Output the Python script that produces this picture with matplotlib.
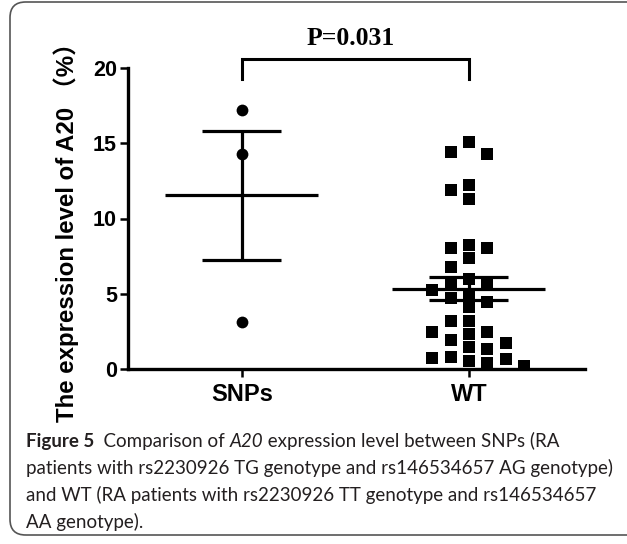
import numpy as np
import matplotlib
matplotlib.use("Agg")
import matplotlib.pyplot as plt
from matplotlib.patches import FancyBboxPatch

# ---- data ----
groups = ["SNPs", "WT"]
snp_vals = [17.18, 14.27, 3.15]
wt_vals = [15.1, 14.45, 14.3, 12.2, 11.9, 11.3, 8.25, 8.07, 8.07, 7.37, 6.75,
           5.97, 5.64, 5.64, 5.27, 4.98, 4.75, 4.42, 4.1, 3.2, 3.2,
           2.43, 2.43, 2.32, 1.92, 1.7, 1.44, 1.33,
           0.82, 0.73, 0.66, 0.5, 0.38, 0.22]
y_ticks = [0, 5, 10, 15, 20]
p_text = "P=0.031"
ylabel = "The expression level of A20 \uff08%\uff09"
caption = [
    [("Figure 5", "bold"), ("  Comparison of ", "normal"), ("A20", "italic"),
     (" expression level between SNPs (RA", "normal")],
    [("patients with rs2230926 TG genotype and rs146534657 AG genotype)", "normal")],
    [("and WT (RA patients with rs2230926 TT genotype and rs146534657", "normal")],
    [("AA genotype).", "normal")],
]

W, H = 627, 544
fig = plt.figure(figsize=(W / 100, H / 100), dpi=100)

# rounded frame around figure + caption (right side runs off the image)
frame = FancyBboxPatch((10 / W, 9 / H), 660 / W, 533 / H,
                       boxstyle="round,pad=0,rounding_size=0.025",
                       transform=fig.transFigure, fill=False,
                       ec="#555555", lw=1.2, mutation_aspect=W / H)
fig.patches.append(frame)

ax = fig.add_axes([128 / W, 1 - 369 / H, 457 / W, 301 / H])
ax.set_xlim(-0.502, 1.511)
ax.set_ylim(0, 20)


def swarm(vals, gap):
    # greedy placement: each point takes the first free slot near the centre
    order = [0, -1, 1, -2, 2, 3, -3, 4, -4]
    placed = []
    slots = []
    for v in vals:
        for s in order:
            if all(not (ps == s and abs(pv - v) < gap) for ps, pv in placed):
                break
        placed.append((s, v))
        slots.append(s)
    return np.array(slots)


step = 0.081
snp_x = np.zeros(len(snp_vals))
wt_x = 1 + swarm(wt_vals, 0.85) * step

ax.scatter(snp_x, snp_vals, s=72, marker="o", color="black", zorder=3, lw=0)
ax.scatter(wt_x, wt_vals, s=72, marker="s", color="black", zorder=3, lw=0)

# mean +/- SEM
for i, vals in enumerate([snp_vals, wt_vals]):
    v = np.array(vals)
    m = v.mean()
    sem = v.std(ddof=1) / np.sqrt(len(v))
    ax.hlines(m, i - 0.337, i + 0.337, color="black", lw=2.3, zorder=4)
    ax.hlines([m - sem, m + sem], i - 0.174, i + 0.174, color="black", lw=2.3, zorder=4)
    ax.vlines(i, m - sem, m + sem, color="black", lw=2.3, zorder=4)

# significance bracket
ax.plot([0, 0, 1, 1], [19.3, 20.6, 20.6, 19.3], color="black", lw=2.2,
        clip_on=False, solid_joinstyle="miter")
ax.text(0.48, 21.55, p_text, ha="center", va="baseline", fontsize=18.5,
        fontweight="bold", family="Liberation Serif")

for s in ["top", "right"]:
    ax.spines[s].set_visible(False)
for s in ["left", "bottom"]:
    ax.spines[s].set_linewidth(2.4)
ax.set_yticks(y_ticks)
ax.set_xticks([0, 1])
ax.set_xticklabels(groups)
ax.tick_params(axis="both", width=1.8, length=6, direction="out")
ax.tick_params(axis="y", pad=2)
ax.tick_params(axis="x", pad=4)
for t in ax.get_yticklabels():
    t.set_fontsize(15.5); t.set_fontweight("bold"); t.set_family("Liberation Sans")
for t in ax.get_xticklabels():
    t.set_fontsize(17); t.set_fontweight("bold"); t.set_family("Liberation Sans")

fig.text(66 / W, 1 - 226 / H, ylabel, rotation=90, ha="center", va="center",
         fontsize=17.3, fontweight="bold",
         family=["Liberation Sans", "Noto Sans CJK SC"])

# caption lines, runs placed one after another on a shared baseline
fig.canvas.draw()
r = fig.canvas.get_renderer()
baselines = [447, 474, 501, 528]
for line, yb in zip(caption, baselines):
    x = 26
    for txt, style in line:
        t = fig.text(x / W, 1 - yb / H, txt, ha="left", va="baseline",
                     fontsize=13.5, family="Lato", color="#231f20",
                     fontweight="bold" if style == "bold" else "normal",
                     fontstyle="italic" if style == "italic" else "normal")
        x += t.get_window_extent(r).width

fig.savefig("out.png", dpi=100)
